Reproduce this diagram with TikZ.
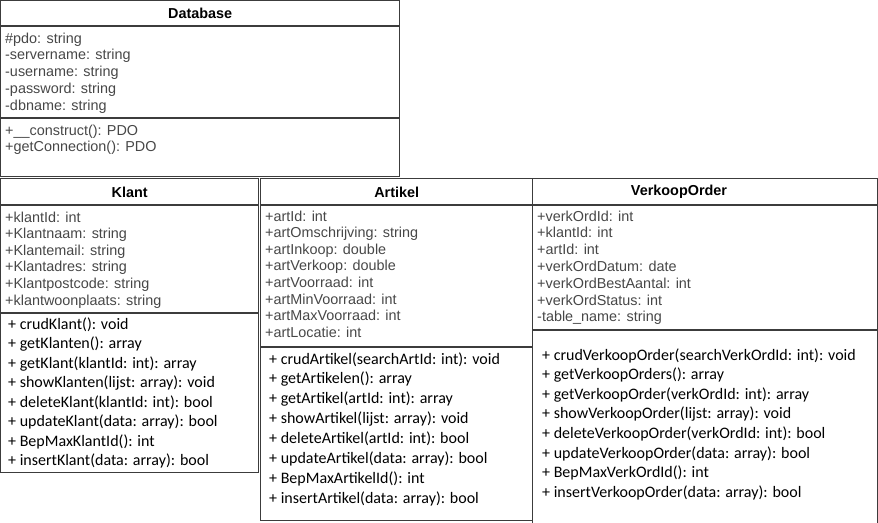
\documentclass[tikz,border=0pt]{standalone}
\usepackage{fontspec}
\setmainfont{Liberation Sans}
\newfontfamily\calibri{Carlito}
\usetikzlibrary{positioning}
\definecolor{boxline}{HTML}{3C3C3C}
\definecolor{attrgray}{HTML}{474747}

\begin{document}
\begin{tikzpicture}[x=1pt,y=-1pt,
    classbox/.style={draw=boxline, line width=1.4pt, inner sep=0pt, anchor=north west},
    classtitle/.style={font=\bfseries\fontsize{14.4}{17}\selectfont},
    attrline/.style={font=\fontsize{14.4}{17}\selectfont, text=attrgray, anchor=base west, inner sep=0pt},
    methline/.style={font=\calibri\fontsize{16}{19}\selectfont, anchor=base west, inner sep=0pt},
    sepline/.style={draw=boxline, line width=1.2pt}]
    \clip (0,0) rectangle (878,522);

    % Database
    \node[classbox, minimum width=399pt, minimum height=176pt] (database) at (0,0) {};
    \node[classtitle] (databasetitle) at ([yshift=-13pt]database.north) {Database};
    \draw[sepline] ([yshift=-26pt]database.north west) -- ([yshift=-26pt]database.north east);
    \draw[sepline] ([yshift=-118pt]database.north west) -- ([yshift=-118pt]database.north east);
    \foreach \t [count=\i] in {\#pdo: string, -servername: string, -username: string,
        -password: string, -dbname: string}
        \node[attrline] (dbattr\i) at (5,{43+16.75*(\i-1)}) {\t};
    \foreach \t [count=\i] in {+\_\_construct(): PDO, +getConnection(): PDO}
        \node[attrline] (dbmeth\i) at (5,{135+16.75*(\i-1)}) {\t};

    % Klant
    \node[classbox, minimum width=258pt, minimum height=294pt] (klant) at (0,178) {};
    \node[classtitle] (klanttitle) at ([yshift=-14pt]klant.north) {Klant};
    \draw[sepline] ([yshift=-27pt]klant.north west) -- ([yshift=-27pt]klant.north east);
    \draw[sepline] ([yshift=-135pt]klant.north west) -- ([yshift=-135pt]klant.north east);
    \foreach \t [count=\i] in {+klantId: int, +Klantnaam: string, +Klantemail: string,
        +Klantadres: string, +Klantpostcode: string, +klantwoonplaats: string}
        \node[attrline] (kattr\i) at (5,{222+16.6*(\i-1)}) {\t};
    \foreach \t [count=\i] in {+ crudKlant(): void, + getKlanten(): array,
        + getKlant(klantId: int): array, + showKlanten(lijst: array): void,
        + deleteKlant(klantId: int): bool, + updateKlant(data: array): bool,
        + BepMaxKlantId(): int, + insertKlant(data: array): bool}
        \node[methline] (kmeth\i) at (8,{329+19.57*(\i-1)}) {\t};

    % Artikel
    \node[classbox, minimum width=272pt, minimum height=342pt] (artikel) at (260,178) {};
    \node[classtitle] (artikeltitle) at ([yshift=-14pt]artikel.north) {Artikel};
    \draw[sepline] ([yshift=-27pt]artikel.north west) -- ([yshift=-27pt]artikel.north east);
    \draw[sepline] ([yshift=-169pt]artikel.north west) -- ([yshift=-169pt]artikel.north east);
    \foreach \t [count=\i] in {+artId: int, +artOmschrijving: string, +artInkoop: double,
        +artVerkoop: double, +artVoorraad: int, +artMinVoorraad: int,
        +artMaxVoorraad: int, +artLocatie: int}
        \node[attrline] (aattr\i) at (265,{221+16.6*(\i-1)}) {\t};
    \foreach \t [count=\i] in {+ crudArtikel(searchArtId: int): void, + getArtikelen(): array,
        + getArtikel(artId: int): array, + showArtikel(lijst: array): void,
        + deleteArtikel(artId: int): bool, + updateArtikel(data: array): bool,
        + BepMaxArtikelId(): int, + insertArtikel(data: array): bool}
        \node[methline] (ameth\i) at (269,{364+19.86*(\i-1)}) {\t};

    % VerkoopOrder
    \node[classbox, minimum width=345pt, minimum height=360pt] (verkooporder) at (532,178) {};
    \node[classtitle] (verkoopordertitle) at (679,192) {VerkoopOrder};
    \draw[sepline] ([yshift=-27pt]verkooporder.north west) -- ([yshift=-27pt]verkooporder.north east);
    \draw[sepline] ([yshift=-152pt]verkooporder.north west) -- ([yshift=-152pt]verkooporder.north east);
    \foreach \t [count=\i] in {+verkOrdId: int, +klantId: int, +artId: int,
        +verkOrdDatum: date, +verkOrdBestAantal: int, +verkOrdStatus: int,
        -table\_name: string}
        \node[attrline] (vattr\i) at (537,{221+16.8*(\i-1)}) {\t};
    \foreach \t [count=\i] in {+ crudVerkoopOrder(searchVerkOrdId: int): void,
        + getVerkoopOrders(): array, + getVerkoopOrder(verkOrdId: int): array,
        + showVerkoopOrder(lijst: array): void, + deleteVerkoopOrder(verkOrdId: int): bool,
        + updateVerkoopOrder(data: array): bool, + BepMaxVerkOrdId(): int,
        + insertVerkoopOrder(data: array): bool}
        \node[methline] (vmeth\i) at (542,{360+19.6*(\i-1)}) {\t};
\end{tikzpicture}
\end{document}
